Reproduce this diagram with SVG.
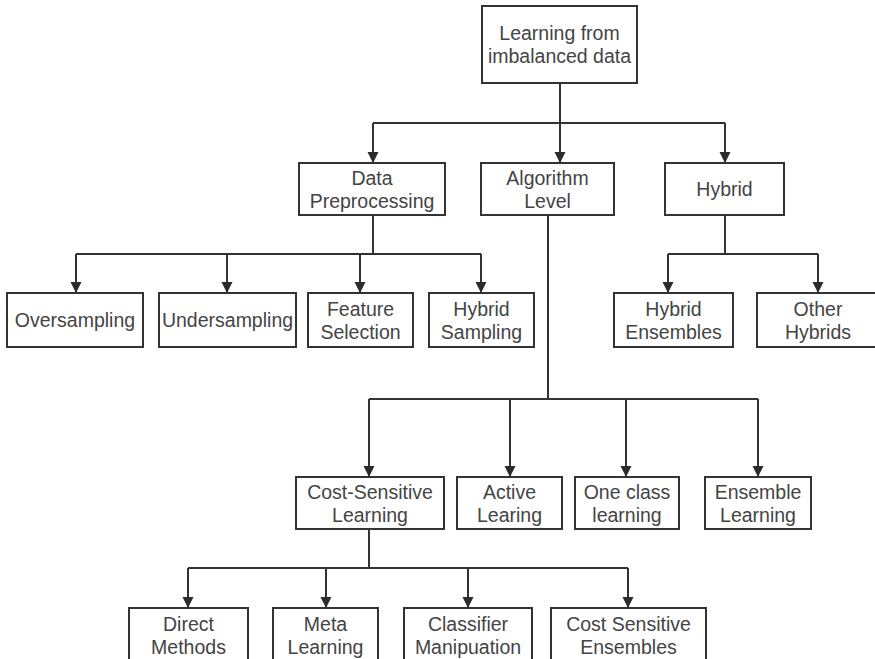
<svg xmlns="http://www.w3.org/2000/svg" width="875" height="659" viewBox="0 0 875 659">
  <defs>
    <marker id="arrow" markerUnits="userSpaceOnUse" markerWidth="12" markerHeight="12" refX="11" refY="6" orient="auto">
      <path d="M0,0.5 L11,6 L0,11.5 Z" fill="#2b2b2b"/>
    </marker>
    <style>
      .box { fill: #ffffff; stroke: #333333; stroke-width: 2; }
      .lbl { font-family: "Liberation Sans", Arial, sans-serif; font-size: 19.5px; fill: #444444; text-anchor: middle; }
      .wire { fill: none; stroke: #333333; stroke-width: 2; }
      .arr { marker-end: url(#arrow); }
    </style>
  </defs>
  <rect width="875" height="659" fill="#ffffff"/>

  <!-- connectors -->
  <g id="connectors">
    <!-- root to level 1 -->
    <path class="wire" d="M560,83 V123 M373,123 H725"/>
    <path class="wire arr" d="M373,123 V163"/>
    <path class="wire arr" d="M560,123 V163"/>
    <path class="wire arr" d="M725,123 V163"/>
    <!-- data preprocessing children -->
    <path class="wire" d="M373,215 V254 M76,254 H481"/>
    <path class="wire arr" d="M76,254 V293"/>
    <path class="wire arr" d="M227,254 V293"/>
    <path class="wire arr" d="M360,254 V293"/>
    <path class="wire arr" d="M481,254 V293"/>
    <!-- hybrid children -->
    <path class="wire" d="M725,215 V254 M668,254 H818"/>
    <path class="wire arr" d="M668,254 V293"/>
    <path class="wire arr" d="M818,254 V293"/>
    <!-- algorithm level children -->
    <path class="wire" d="M548,215 V399 M369,399 H758"/>
    <path class="wire arr" d="M369,399 V477"/>
    <path class="wire arr" d="M510,399 V477"/>
    <path class="wire arr" d="M626,399 V477"/>
    <path class="wire arr" d="M758,399 V477"/>
    <!-- cost-sensitive children -->
    <path class="wire" d="M369,529 V568 M188,568 H628"/>
    <path class="wire arr" d="M188,568 V608"/>
    <path class="wire arr" d="M326,568 V608"/>
    <path class="wire arr" d="M468,568 V608"/>
    <path class="wire arr" d="M628,568 V608"/>
  </g>

  <!-- root -->
  <g id="root">
    <rect class="box" x="482" y="6" width="155" height="77"/>
    <text class="lbl" x="559.5" y="40">Learning from</text>
    <text class="lbl" x="559.5" y="63">imbalanced data</text>
  </g>

  <!-- level 1 -->
  <g id="data-preprocessing">
    <rect class="box" x="299" y="163" width="146" height="52"/>
    <text class="lbl" x="372" y="184.5">Data</text>
    <text class="lbl" x="372" y="207.5">Preprocessing</text>
  </g>
  <g id="algorithm-level">
    <rect class="box" x="481" y="163" width="133" height="52"/>
    <text class="lbl" x="547.5" y="184.5">Algorithm</text>
    <text class="lbl" x="547.5" y="207.5">Level</text>
  </g>
  <g id="hybrid">
    <rect class="box" x="665" y="163" width="119" height="52"/>
    <text class="lbl" x="724.5" y="196">Hybrid</text>
  </g>

  <!-- level 2 -->
  <g id="oversampling">
    <rect class="box" x="7" y="293" width="136" height="54"/>
    <text class="lbl" x="75" y="327">Oversampling</text>
  </g>
  <g id="undersampling">
    <rect class="box" x="159" y="293" width="137" height="54"/>
    <text class="lbl" x="227.5" y="327">Undersampling</text>
  </g>
  <g id="feature-selection">
    <rect class="box" x="308" y="293" width="105" height="54"/>
    <text class="lbl" x="360.5" y="315.5">Feature</text>
    <text class="lbl" x="360.5" y="338.5">Selection</text>
  </g>
  <g id="hybrid-sampling">
    <rect class="box" x="429" y="293" width="105" height="54"/>
    <text class="lbl" x="481.5" y="315.5">Hybrid</text>
    <text class="lbl" x="481.5" y="338.5">Sampling</text>
  </g>
  <g id="hybrid-ensembles">
    <rect class="box" x="614" y="293" width="119" height="54"/>
    <text class="lbl" x="673.5" y="315.5">Hybrid</text>
    <text class="lbl" x="673.5" y="338.5">Ensembles</text>
  </g>
  <g id="other-hybrids">
    <rect class="box" x="757" y="293" width="122" height="54"/>
    <text class="lbl" x="818" y="315.5">Other</text>
    <text class="lbl" x="818" y="338.5">Hybrids</text>
  </g>

  <!-- level 3 -->
  <g id="cost-sensitive-learning">
    <rect class="box" x="296" y="477" width="148" height="52"/>
    <text class="lbl" x="370" y="498.5">Cost-Sensitive</text>
    <text class="lbl" x="370" y="521.5">Learning</text>
  </g>
  <g id="active-learing">
    <rect class="box" x="457" y="477" width="105" height="52"/>
    <text class="lbl" x="509.5" y="498.5">Active</text>
    <text class="lbl" x="509.5" y="521.5">Learing</text>
  </g>
  <g id="one-class-learning">
    <rect class="box" x="575" y="477" width="104" height="52"/>
    <text class="lbl" x="627" y="498.5">One class</text>
    <text class="lbl" x="627" y="521.5">learning</text>
  </g>
  <g id="ensemble-learning">
    <rect class="box" x="705" y="477" width="106" height="52"/>
    <text class="lbl" x="758" y="498.5">Ensemble</text>
    <text class="lbl" x="758" y="521.5">Learning</text>
  </g>

  <!-- level 4 -->
  <g id="direct-methods">
    <rect class="box" x="129" y="608" width="119" height="56"/>
    <text class="lbl" x="188.5" y="630.5">Direct</text>
    <text class="lbl" x="188.5" y="653.5">Methods</text>
  </g>
  <g id="meta-learning">
    <rect class="box" x="273" y="608" width="105" height="56"/>
    <text class="lbl" x="325.5" y="630.5">Meta</text>
    <text class="lbl" x="325.5" y="653.5">Learning</text>
  </g>
  <g id="classifier-manipuation">
    <rect class="box" x="404" y="608" width="128" height="56"/>
    <text class="lbl" x="468" y="630.5">Classifier</text>
    <text class="lbl" x="468" y="653.5">Manipuation</text>
  </g>
  <g id="cost-sensitive-ensembles">
    <rect class="box" x="551" y="608" width="155" height="56"/>
    <text class="lbl" x="628.5" y="630.5">Cost Sensitive</text>
    <text class="lbl" x="628.5" y="653.5">Ensembles</text>
  </g>
</svg>
